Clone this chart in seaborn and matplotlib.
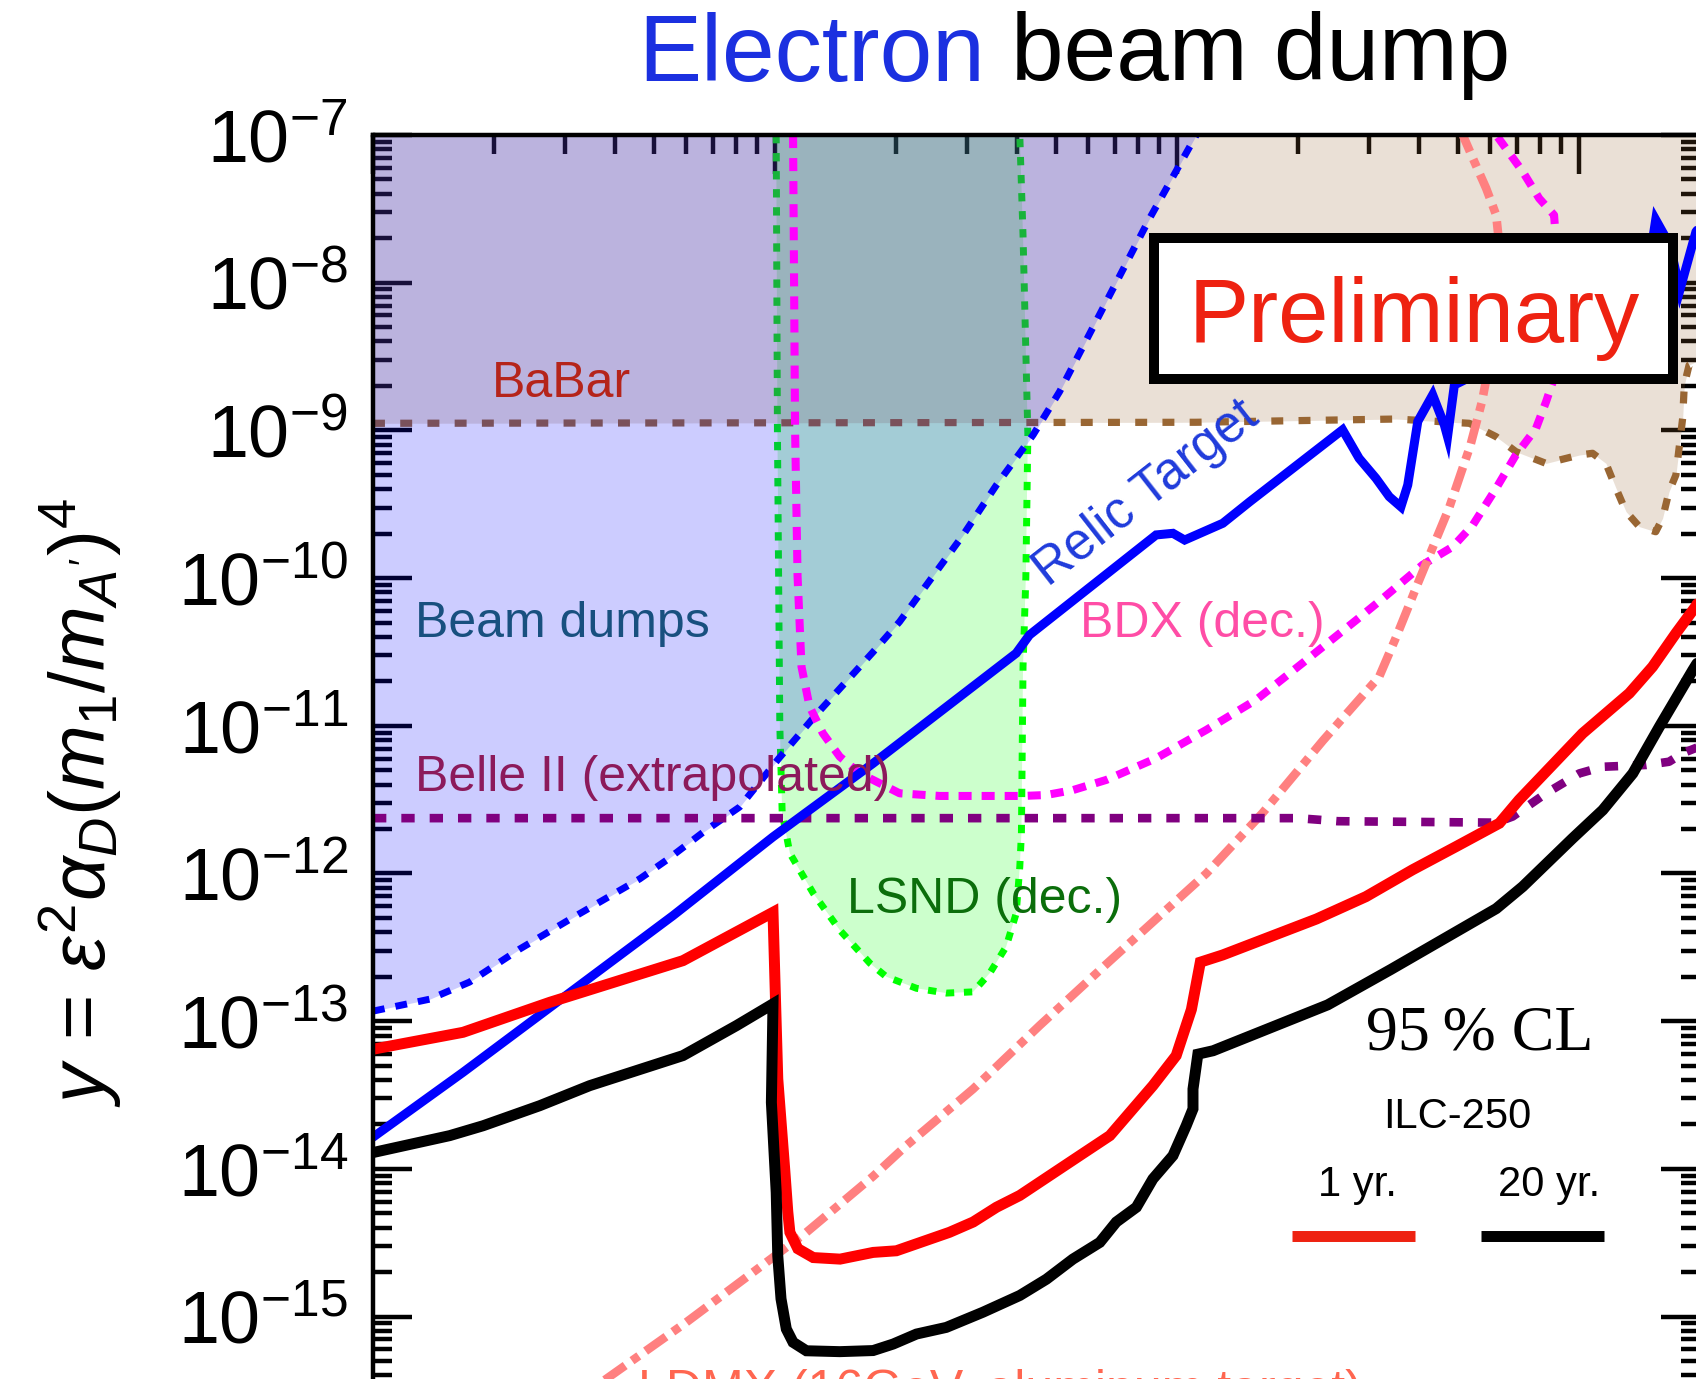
import numpy as np
import matplotlib
matplotlib.use("Agg")
import matplotlib.pyplot as plt
import seaborn as sns
from matplotlib.patches import Rectangle
from matplotlib.ticker import LogLocator, NullFormatter

sns.set_theme(style="ticks")
plt.rcParams['font.family'] = ['Liberation Sans', 'DejaVu Sans']
plt.rcParams['mathtext.fontset'] = 'custom'
plt.rcParams['mathtext.rm'] = 'Liberation Sans'
plt.rcParams['mathtext.it'] = 'Liberation Sans:italic'
plt.rcParams['mathtext.bf'] = 'Liberation Sans:bold'
plt.rcParams['lines.scale_dashes'] = False
plt.rcParams['text.color'] = 'black'
plt.rcParams['axes.edgecolor'] = 'black'
plt.rcParams['xtick.color'] = 'black'
plt.rcParams['ytick.color'] = 'black'

# ---------------- data (mass, y) ----------------
# ILC-250 sensitivity, 1 year
ilc1_m = [1.0, 1.675, 2.754, 5.902, 9.886, 10.16, 10.57, 10.76, 10.89, 11.40, 12.45, 14.52,
          17.54, 20.04, 27.16, 31.12, 35.56, 40.64, 57.28, 68.08, 87.10, 99.54, 108.6, 114.3,
          130.0, 222.3, 295.1, 385.5, 494.3, 633.9, 709.6, 1021, 1334, 1524, 1742, 1954, 1995]
ilc1_y = [6.46e-14, 8.41e-14, 1.343e-13, 2.57e-13, 5.46e-13, 4.07e-14, 1.0e-14, 5.13e-15,
          3.72e-15, 2.88e-15, 2.51e-15, 2.45e-15, 2.72e-15, 2.79e-15, 3.72e-15, 4.37e-15,
          5.50e-15, 6.61e-15, 1.23e-14, 1.68e-14, 3.66e-14, 5.85e-14, 1.20e-13, 2.51e-13,
          2.81e-13, 4.92e-13, 6.97e-13, 1.06e-12, 1.52e-12, 2.19e-12, 3.15e-12, 8.89e-12,
          1.66e-11, 2.51e-11, 4.23e-11, 6.46e-11, 7.2e-11]

# ILC-250 sensitivity, 20 years
ilc20_m = [1.0, 1.552, 1.879, 2.600, 3.459, 5.902, 8.017, 9.886, 9.795, 10.07, 10.16, 10.35,
           10.67, 11.09, 11.97, 14.49, 17.54, 19.68, 22.49, 26.67, 32.89, 40.64, 47.32, 55.08,
           64.27, 70.63, 79.25, 87.10, 97.72, 105.4, 109.6, 109.6, 112.7, 123.0, 237.1, 340.4,
           622.3, 724.4, 963.9, 1146, 1361, 1585, 1919, 1995]
ilc20_y = [1.29e-14, 1.68e-14, 1.96e-14, 2.68e-14, 3.66e-14, 5.85e-14, 9.33e-14, 1.31e-13,
           2.82e-14, 6.92e-15, 2.58e-15, 1.32e-15, 8.24e-16, 6.70e-16, 5.87e-16, 5.79e-16,
           5.89e-16, 6.52e-16, 7.62e-16, 8.45e-16, 1.07e-15, 1.39e-15, 1.79e-15, 2.45e-15,
           3.18e-15, 4.37e-15, 5.50e-15, 8.55e-15, 1.23e-14, 1.96e-14, 2.55e-14, 3.47e-14,
           5.98e-14, 6.31e-14, 1.29e-13, 2.24e-13, 5.78e-13, 8.15e-13, 1.73e-12, 2.69e-12,
           4.76e-12, 9.86e-12, 2.38e-11, 2.82e-11]

# thermal relic target
relic_m = [1.0, 1.675, 5.572, 9.886, 17.54, 39.81, 42.95, 88.72, 97.72, 104.5, 130.0, 151.7,
           258.2, 283.8, 312.6, 337.3, 360.6, 375.0, 397.2, 432.5, 462.4, 471.0, 489.8,
           1459, 1552, 1683, 1782, 1954, 1995]
relic_y = [1.64e-14, 4.51e-14, 5.18e-13, 1.77e-12, 5.57e-12, 3.10e-11, 4.12e-11, 1.96e-10,
           2.01e-10, 1.81e-10, 2.35e-10, 3.29e-10, 1.01e-9, 6.47e-10, 4.74e-10, 3.56e-10,
           3.04e-10, 4.27e-10, 1.15e-9, 1.74e-9, 1.09e-9, 9.06e-10, 2.03e-9,
           8.91e-9, 2.67e-8, 1.80e-8, 8.91e-9, 2.21e-8, 2.40e-8]

# existing beam-dump exclusion (lower edge)
dump_m = [1.0, 1.384, 1.738, 2.317, 3.090, 4.603, 5.370, 6.622, 8.166, 10.23, 12.59, 17.54,
          20.42, 29.38, 35.56, 43.85, 51.05, 66.68, 85.51, 111.7]
dump_y = [1.17e-13, 1.41e-13, 1.84e-13, 3.08e-13, 4.90e-13, 9.18e-13, 1.23e-12, 1.90e-12,
          2.82e-12, 6.03e-12, 1.17e-11, 3.16e-11, 5.07e-11, 1.96e-10, 4.27e-10, 9.31e-10,
          1.83e-9, 7.43e-9, 2.73e-8, 1.0e-7]

# BaBar exclusion (lower edge)
babar_m = [1.0, 111.4, 350.8, 533.3, 544.5, 622.3, 696.6, 827.9, 1002, 1081, 1167, 1236,
           1309, 1413, 1552, 1614, 1675, 1742, 1811, 1828, 1879, 1954, 1995]
babar_y = [1.117e-9, 1.135e-9, 1.194e-9, 1.117e-9, 1.089e-9, 9.06e-10, 7.18e-10, 5.98e-10,
           6.81e-10, 7.00e-10, 5.98e-10, 4.06e-10, 2.82e-10, 2.23e-10, 2.06e-10, 2.54e-10,
           3.85e-10, 4.99e-10, 1.21e-9, 2.03e-9, 2.77e-9, 2.92e-9, 3.02e-9]

# LSND (decay) exclusion contour
lsnd_m = [10.07, 10.14, 10.28, 10.42, 10.89, 12.45, 14.49, 17.22, 18.92, 22.49, 26.67,
          31.12, 34.20, 37.58, 39.81, 40.64, 41.02, 41.40, 42.07, 42.56, 41.40, 40.64]
lsnd_y = [1e-7, 1e-9, 1e-11, 2.57e-12, 1.37e-12, 7.35e-13, 4.14e-13, 2.47e-13, 2.00e-13,
          1.67e-13, 1.55e-13, 1.58e-13, 2.11e-13, 3.19e-13, 5.37e-13, 1.11e-12, 1.87e-12,
          2.51e-11, 1e-10, 9.33e-10, 2.10e-8, 1e-7]

# BDX (decay) projection
bdx_m = [11.09, 11.22, 11.38, 11.64, 12.19, 13.15, 14.49, 16.26, 17.54, 20.42, 25.70, 41.40,
         47.32, 55.08, 66.68, 88.72, 118.3, 157.4, 209.9, 279.3, 325.1, 408.3, 485.3, 544.5,
         622.3, 696.6, 781.6, 827.9, 861.0, 887.2, 881.0, 867.0, 796.2, 724.4, 657.7, 622.3]
bdx_y = [1e-7, 1e-9, 1.03e-10, 2.51e-11, 1.35e-11, 8.91e-12, 6.18e-12, 4.76e-12, 4.30e-12,
         3.49e-12, 3.35e-12, 3.35e-12, 3.40e-12, 3.67e-12, 4.30e-12, 6.03e-12, 9.38e-12,
         1.50e-11, 2.79e-11, 5.20e-11, 7.29e-11, 1.23e-10, 1.63e-10, 2.29e-10, 4.06e-10,
         6.81e-10, 1.03e-9, 1.56e-9, 2.14e-9, 6.31e-9, 1.58e-8, 2.87e-8, 3.72e-8, 5.65e-8,
         8.13e-8, 1e-7]

# LDMX (16 GeV, aluminum target) projection
ldmx_m = [3.090, 3.802, 6.012, 11.97, 17.54, 21.23, 31.12, 45.50, 66.68, 118.3, 163.3, 230.7,
          318.4, 350.8, 398.1, 475.3, 537.0, 574.1, 602.6, 631.0, 631.0, 622.3, 587.5, 544.5,
          514.0]
ldmx_y = [2.51e-16, 3.78e-16, 9.14e-16, 3.72e-15, 8.91e-15, 1.44e-14, 3.48e-14, 9.33e-14,
          2.43e-13, 1.0e-12, 2.57e-12, 7.94e-12, 2.15e-11, 3.98e-11, 9.33e-11, 2.99e-10,
          7.94e-10, 1.58e-9, 3.16e-9, 1e-8, 2.0e-8, 2.87e-8, 4.36e-8, 6.95e-8, 1e-7]

# Belle II (extrapolated)
belle_m = [1.0, 199.5, 251.2, 622.3, 683.9, 827.9, 1002, 1146, 1469, 1675, 1811, 1995]
belle_y = [2.37e-12, 2.37e-12, 2.26e-12, 2.21e-12, 2.43e-12, 3.49e-12, 4.76e-12, 5.28e-12,
           5.43e-12, 5.71e-12, 6.52e-12, 7.24e-12]

y_major = [1e-16, 1e-15, 1e-14, 1e-13, 1e-12, 1e-11, 1e-10, 1e-9, 1e-8, 1e-7]

# ---------------- layout ----------------
W, H, DPI = 1696, 1379, 100
AX_L, AX_R, AX_T = 373, 1700, 135
DEC_Y = 147.7
AX_B = AX_T + DEC_Y * 9

fig = plt.figure(figsize=(W / DPI, H / DPI), dpi=DPI)
fig.patch.set_facecolor('white')
ax = fig.add_axes([AX_L / W, 1 - AX_B / H, (AX_R - AX_L) / W, (AX_B - AX_T) / H])
ax.set_facecolor('white')
ax.set_xscale('log')
ax.set_yscale('log')
ax.set_xlim(1.0, 2000.0)
ax.set_ylim(1e-16, 1e-7)


def frac(px, py):
    """pixel position in the figure -> axes fraction"""
    return (px - AX_L) / (AX_R - AX_L), (AX_B - py) / (AX_B - AX_T)


# ---------------- shaded regions ----------------
ax.fill(lsnd_m, lsnd_y, color=(0, 1, 0), alpha=0.2, lw=0, zorder=1.0)
ax.plot(lsnd_m, lsnd_y, color='#00FF00', linewidth=5.0, linestyle=(0, (6, 7)), zorder=1.1)
ax.fill_between(babar_m, babar_y, 1e-7, color='#996633', alpha=0.2, lw=0, zorder=1.2)
ax.plot(babar_m, babar_y, color='#996633', linewidth=5.2, linestyle=(0, (8.6, 11)), zorder=1.3)
ax.fill_between(dump_m, dump_y, 1e-7, color='#0000FF', alpha=0.2, lw=0, zorder=1.4)


# ---------------- curves ----------------
def curve(m, y, color, width, style='-', z=2.0):
    n_before = len(ax.lines)
    sns.lineplot(x=np.asarray(m), y=np.asarray(y), ax=ax, sort=False, estimator=None,
                 color=color, linewidth=width, linestyle=style, zorder=z)
    for ln in ax.lines[n_before:]:
        ln.set_linewidth(width)
        ln.set_linestyle(style)
        ln.set_zorder(z)
        ln.set_solid_joinstyle('miter')


curve(dump_m, dump_y, '#0000FF', 5.0, (0, (8.5, 8)), 2.0)
curve(bdx_m, bdx_y, '#FF00FF', 5.8, (0, (9.4, 7.2)), 2.1)
curve(ldmx_m, ldmx_y, '#FF8080', 6.2, (0, (18, 6, 6, 6)), 2.2)
curve(belle_m, belle_y, '#800080', 6.2, (0, (9.6, 10.8)), 2.3)
curve(relic_m, relic_y, '#0000FF', 6.5, '-', 2.4)
curve(ilc1_m, ilc1_y, '#FF0000', 7.9, '-', 2.5)
curve(ilc20_m, ilc20_y, '#000000', 7.9, '-', 2.6)

# ---------------- axes styling ----------------
for s in ax.spines.values():
    s.set_linewidth(3.2)
    s.set_color('black')
    s.set_zorder(5)
ax.set_yticks(y_major)
ax.yaxis.set_minor_locator(LogLocator(base=10, subs=np.arange(2, 10), numticks=30))
ax.xaxis.set_major_locator(LogLocator(base=10, numticks=30))
ax.xaxis.set_minor_locator(LogLocator(base=10, subs=np.arange(2, 10), numticks=30))
ax.xaxis.set_minor_formatter(NullFormatter())
ax.yaxis.set_minor_formatter(NullFormatter())
ax.tick_params(which='both', direction='in', top=True, right=True, bottom=True, left=True,
               width=3.2, colors='black', labelbottom=False, zorder=6)
ax.tick_params(which='major', length=28)
ax.tick_params(which='minor', length=14)
ax.tick_params(axis='y', which='major', labelsize=53, pad=18)
ax.set_xlabel('')
ax.set_ylabel('')

# ---------------- region labels ----------------
lab_kw = dict(transform=ax.transAxes, ha='left', va='baseline', fontsize=36, zorder=7)
for txt, px, py, col in [
    ("BaBar", 492, 397, '#B5241A'),
    ("Beam dumps", 415, 637, '#18507F'),
    ("Belle II (extrapolated)", 415, 791, '#8C1A5B'),
    ("LSND (dec.)", 847, 913, '#0B6E0B'),
    ("BDX (dec.)", 1080, 637, '#FF4DA6'),
    ("LDMX (16GeV, aluminum target)", 638, 1405, '#FF6650'),
]:
    ax.text(*frac(px, py), txt, color=col, **lab_kw)

ax.text(*frac(1048, 587), "Relic Target", color='#1F3BDB', fontsize=37, rotation=38,
        rotation_mode='anchor', ha='left', va='baseline', transform=ax.transAxes, zorder=7)

# Preliminary stamp
bx0, by0 = frac(1154, 379)
bx1, by1 = frac(1673, 238)
ax.add_patch(Rectangle((bx0, by0), bx1 - bx0, by1 - by0, transform=ax.transAxes,
                       facecolor='white', edgecolor='black', lw=7.2, joinstyle='miter',
                       zorder=10, clip_on=False))
ax.text(*frac(1414, 342), "Preliminary", color='#EE2211', fontsize=65, ha='center',
        va='baseline', transform=ax.transAxes, zorder=11)

# confidence level and key
ax.text(*frac(1366, 1049), "95\u2009% CL", family=['Liberation Serif', 'DejaVu Serif'],
        fontsize=46, ha='left', va='baseline', transform=ax.transAxes, zorder=7)
ax.text(*frac(1457, 1128), "ILC-250", fontsize=30, ha='center', va='baseline',
        transform=ax.transAxes, zorder=7)
ax.text(*frac(1357, 1196), "1 yr.", fontsize=30, ha='center', va='baseline',
        transform=ax.transAxes, zorder=7)
ax.text(*frac(1549, 1196), "20 yr.", fontsize=30, ha='center', va='baseline',
        transform=ax.transAxes, zorder=7)
for (p0, p1, col) in [(1292, 1415, '#EE2211'), (1481, 1604, '#000000')]:
    (fx0, fy), (fx1, _) = frac(p0, 1236), frac(p1, 1236)
    ax.plot([fx0, fx1], [fy, fy], transform=ax.transAxes, color=col, lw=7.9,
            solid_capstyle='butt', zorder=7, clip_on=False)

# ---------------- y label ----------------
fig.text(80 / W, 1 - 803 / H, r'$y\,=\,\varepsilon^2\alpha_D(m_1/m_{A^{\prime}})^4$',
         rotation=90, ha='center', va='center', fontsize=56)

# ---------------- title ----------------
title_x, title_base, title_fs = 1074 / W, 1 - 80.5 / H, 68
full = fig.text(title_x, title_base, "Electron beam dump", fontsize=title_fs,
                ha='center', va='baseline', alpha=0)
fig.canvas.draw()
bb = full.get_window_extent(renderer=fig.canvas.get_renderer())
fig.text(bb.x0 / W, title_base, "Electron", fontsize=title_fs, color='#1B30E0',
         ha='left', va='baseline')
fig.text(bb.x1 / W, title_base, "beam dump", fontsize=title_fs, color='black',
         ha='right', va='baseline')

fig.savefig('out.png', dpi=DPI, facecolor='white')
